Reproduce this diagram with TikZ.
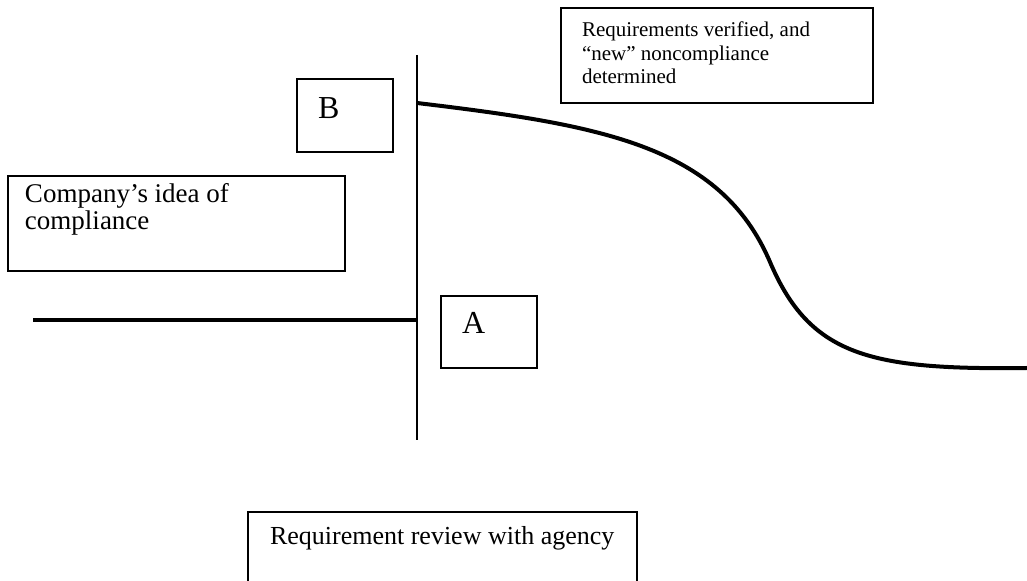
\documentclass[tikz,border=0pt]{standalone}
\usepackage{fontspec}
\setmainfont{Liberation Serif}
\usetikzlibrary{positioning}

\begin{document}
\begin{tikzpicture}[x=0.5pt,y=-0.5pt,
	box/.style={draw=black,line width=0.75pt,inner sep=0pt,outer sep=0pt,anchor=north west},
	txt/.style={inner sep=0pt,outer sep=0pt,align=left,font=\fontsize{13.5}{13.5}\selectfont}]
	\clip (0,0) rectangle (1027,581);

	% text boxes
	\node [box,minimum width=156pt,minimum height=47.5pt] at (561,8) (verified) {};
	\node [box,minimum width=48pt,minimum height=36.5pt] at (297,79) (b_box) {};
	\node [box,minimum width=168.5pt,minimum height=47.5pt] at (8,176) (company) {};
	\node [box,minimum width=48pt,minimum height=36pt] at (441,296) (a_box) {};
	\node [box,minimum width=194.5pt,minimum height=50pt] at (248,512) (review) {};

	% base west = baseline of the last line
	\node [txt,font=\fontsize{10.5}{11.75}\selectfont,below right = 38pt and 10.5pt of verified.north west,anchor=base west] (verified_txt) {Requirements verified, and\\“new” noncompliance\\determined};
	\node [txt,font=\fontsize{16}{18}\selectfont,below right = 20pt and 10.5pt of b_box.north west,anchor=base west] (b_txt) {B};
	\node [txt,below right = 27pt and 8.5pt of company.north west,anchor=base west] (company_txt) {Company’s idea of\\compliance};
	\node [txt,font=\fontsize{16}{18}\selectfont,below right = 19pt and 10.5pt of a_box.north west,anchor=base west] (a_txt) {A};
	\node [txt,font=\fontsize{13}{13.5}\selectfont,below right = 16.5pt and 11pt of review.north west,anchor=base west] (review_txt) {Requirement review with agency};

	% axis and levels
	\coordinate (axis_top) at (417,55);
	\coordinate (axis_bot) at (417,440);
	\coordinate (old_start) at (33,320);
	\coordinate (old_end) at (417,320);
	\coordinate (new_start) at (417,103);
	\coordinate (bend) at (770,262);
	\coordinate (new_end) at (1027,368);

	\draw [line width=1pt] (axis_top) -- (axis_bot);
	\draw [line width=2pt] (old_start) -- (old_end);
	\draw [line width=2pt] (new_start) .. controls (600,125) and (720,145) .. (bend)
		.. controls (810,356) and (870,370) .. (new_end);
\end{tikzpicture}
\end{document}
